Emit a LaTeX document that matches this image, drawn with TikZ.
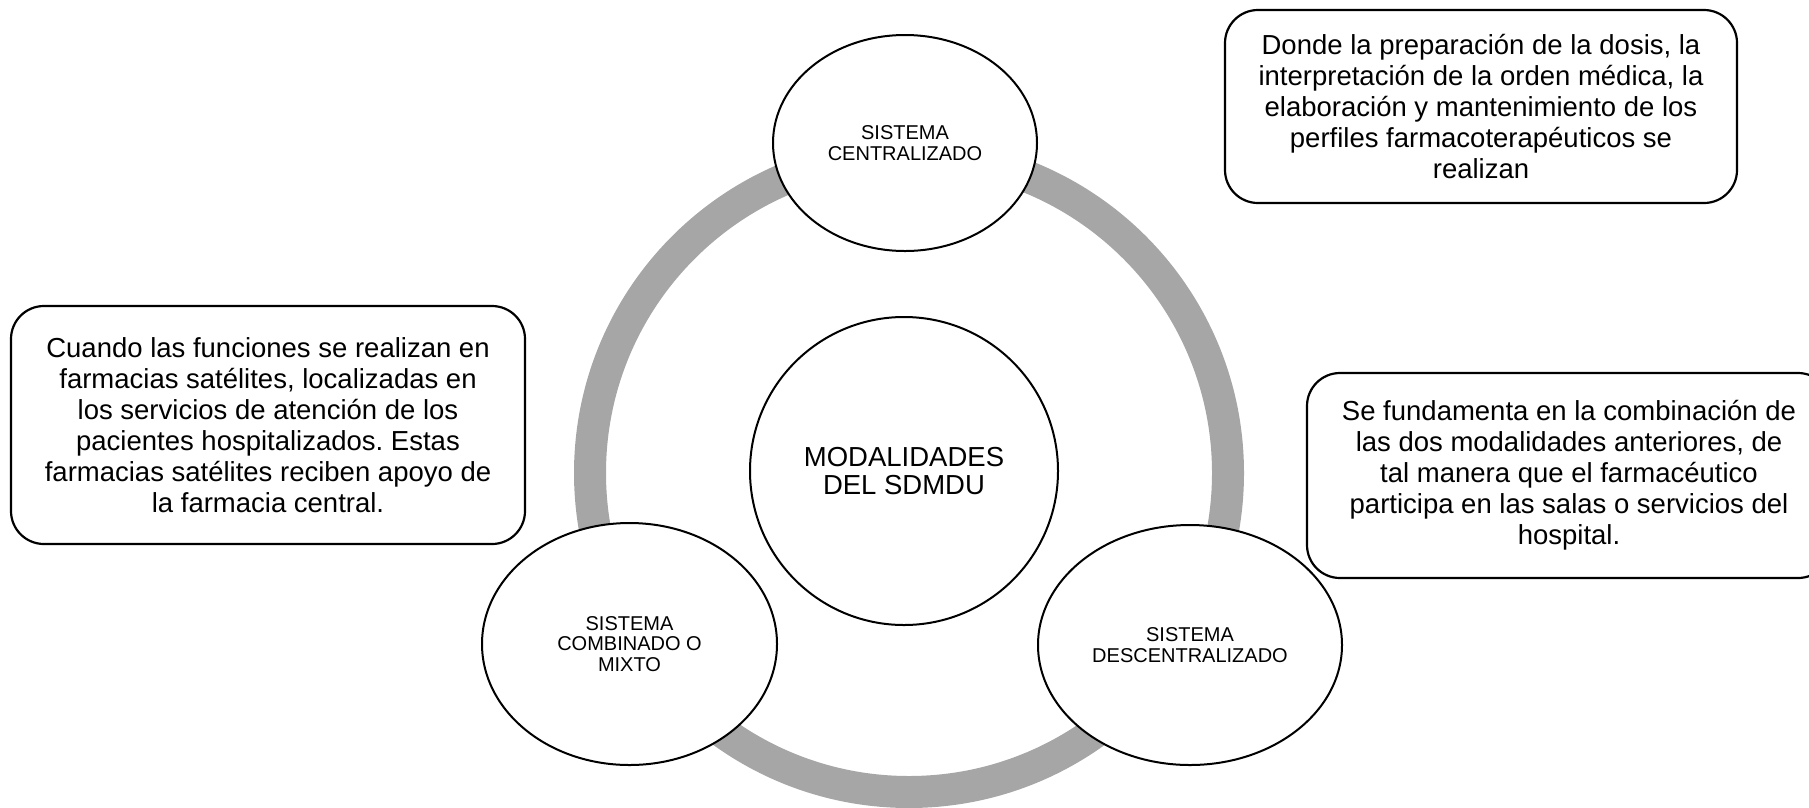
\documentclass[tikz,border=0pt]{standalone}
\usepackage{fontspec}
\setmainfont{Liberation Sans}
\usetikzlibrary{shapes.geometric}
\definecolor{ringgray}{HTML}{A6A6A6}
\frenchspacing
\begin{document}
\begin{tikzpicture}[x=1pt,y=-1pt,
  ellnode/.style={ellipse, draw=black, line width=2pt, fill=white, inner sep=0pt, align=center,
    font=\fontsize{20}{20.5}\selectfont},
  centernode/.style={circle, draw=black, line width=2pt, fill=white, inner sep=0pt, align=center,
    font=\fontsize{27.5}{28}\selectfont},
  infobox/.style={draw=black, line width=2.2pt, rounded corners=33pt, fill=white, align=center,
    inner sep=0pt, font=\fontsize{27.5}{31}\selectfont}
]
\useasboundingbox (0,0) rectangle (1809,807);
\coordinate (rc) at (909,473);
\draw[ringgray, line width=32pt] (rc) circle[radius=319];

\node[centernode, minimum size=308pt] (mod) at (904,471) {MODALIDADES\\DEL SDMDU};

\node[ellnode, minimum width=264pt, minimum height=216pt] (cen) at (905,143) {SISTEMA\\CENTRALIZADO};
\node[ellnode, minimum width=295pt, minimum height=242pt] (mix) at (629.5,644) {SISTEMA\\COMBINADO O\\MIXTO};
\node[ellnode, minimum width=304pt, minimum height=240pt] (des) at (1190,645) {SISTEMA\\DESCENTRALIZADO};

\node[infobox, minimum width=512pt, minimum height=193pt] (bcen) at (1481,106.5)
  {Donde la preparación de la dosis, la\\interpretación de la orden médica, la\\elaboración y mantenimiento de los\\perfiles farmacoterapéuticos se\\realizan};
\node[infobox, minimum width=514pt, minimum height=238pt] (bdes) at (268,425)
  {Cuando las funciones se realizan en\\farmacias satélites, localizadas en\\los servicios de atención de los\\pacientes hospitalizados. Estas\\farmacias satélites reciben apoyo de\\la farmacia central.};
\node[infobox, minimum width=524pt, minimum height=205pt] (bmix) at (1569,475.5)
  {Se fundamenta en la combinación de\\las dos modalidades anteriores, de\\tal manera que el farmacéutico\\participa en las salas o servicios del\\hospital.};
\end{tikzpicture}
\end{document}
